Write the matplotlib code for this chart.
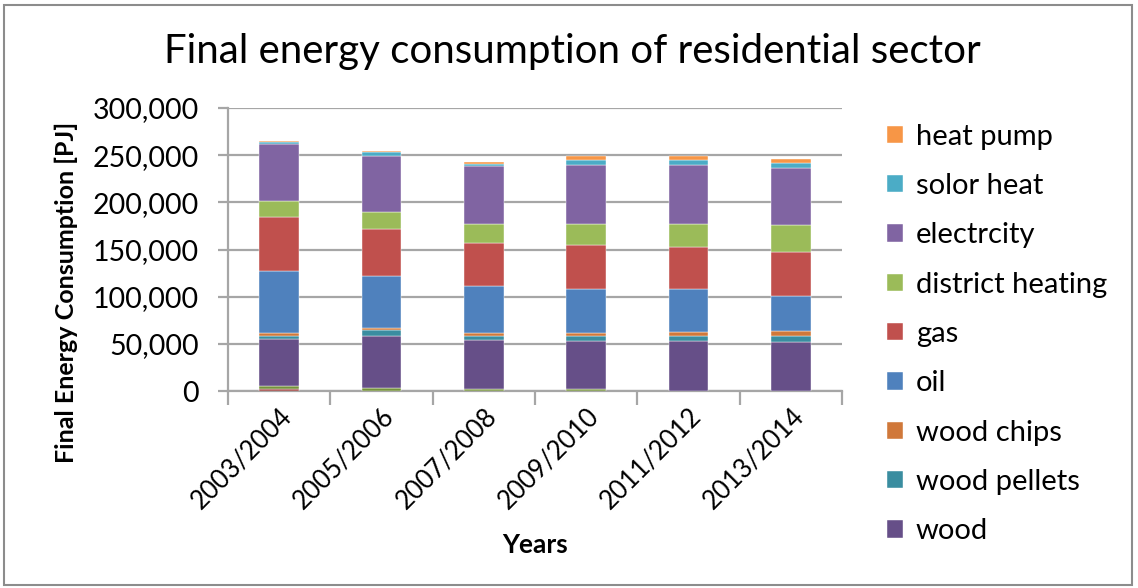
import matplotlib
matplotlib.use("Agg")
import matplotlib.pyplot as plt
from matplotlib.patches import Rectangle
from matplotlib.ticker import FuncFormatter, MultipleLocator
import numpy as np

plt.rcParams['font.family'] = ['Lato', 'DejaVu Sans']

years = ["2003/2004", "2005/2006", "2007/2008", "2009/2010", "2011/2012", "2013/2014"]

# Stacked from the bottom up
minor_a = [1800, 300, 0, 0, 0, 0]
minor_b = [3100, 3200, 1800, 1800, 500, 300]
wood = [50600, 54800, 52300, 51200, 52500, 51300]
wood_pellets = [2800, 6000, 4200, 5300, 5300, 7100]
wood_chips = [2800, 2400, 2800, 2800, 4600, 5200]
oil = [66500, 55500, 50200, 47000, 45200, 37200]
gas = [56500, 49500, 45200, 47000, 44200, 45900]
district_heating = [17700, 18300, 20500, 21600, 24700, 28600]
electricity = [59700, 59100, 61200, 62500, 62200, 60800]
solar_heat = [2500, 4200, 2400, 5700, 5700, 5600]
heat_pump = [1400, 1400, 2500, 4200, 4200, 3900]

series = [
    ("_minor_a", minor_a, "#9C3E3B"),
    ("_minor_b", minor_b, "#76923C"),
    ("wood", wood, "#664F88"),
    ("wood pellets", wood_pellets, "#3A8DA0"),
    ("wood chips", wood_chips, "#D0783A"),
    ("oil", oil, "#4F81BD"),
    ("gas", gas, "#C0504D"),
    ("district heating", district_heating, "#9BBB59"),
    ("electrcity", electricity, "#8064A2"),
    ("solor heat", solar_heat, "#4BACC6"),
    ("heat pump", heat_pump, "#F79646"),
]

fig = plt.figure(figsize=(11.38, 5.88), dpi=100)
ax = fig.add_axes([228 / 1138, 1 - 391 / 588, 614 / 1138, 283 / 588])

x = np.arange(len(years))
bottom = np.zeros(len(years))
handles = []
for name, vals, color in series:
    vals = np.asarray(vals, dtype=float)
    bars = ax.bar(x, vals, width=0.39, bottom=bottom, color=color,
                  edgecolor="white", linewidth=0.3, label=name, zorder=3)
    if not name.startswith("_"):
        handles.append(bars)
    bottom += vals

ax.set_xlim(-0.5, len(years) - 0.5)
ax.set_ylim(0, 300000)
ax.yaxis.set_major_locator(MultipleLocator(50000))
ax.yaxis.set_major_formatter(FuncFormatter(lambda v, p: f"{int(v):,}"))

grid_c = "#A6A6A6"
ax.grid(axis="y", color=grid_c, linewidth=1.6, zorder=0)
for s in ["top", "right"]:
    ax.spines[s].set_visible(False)
ax.spines["left"].set_color(grid_c)
ax.spines["left"].set_linewidth(1.6)
ax.spines["bottom"].set_color(grid_c)
ax.spines["bottom"].set_linewidth(1.6)

ax.set_xticks(x)
ax.set_xticklabels(years, rotation=45, ha="right", rotation_mode="anchor", fontsize=18.5)
ax.tick_params(axis="x", length=0, pad=9)
ax.set_xticks(np.arange(-0.5, len(years)), minor=True)
ax.tick_params(axis="x", which="minor", length=10, width=1.6, color=grid_c)
ax.tick_params(axis="y", length=7, width=1.6, color=grid_c, labelsize=20.5, pad=14)

ax.set_ylabel("Final Energy Consumption [PJ]", fontsize=18, fontweight="bold")
ax.yaxis.set_label_coords(-0.244, 0.35)
ax.set_xlabel("Years", fontsize=19, fontweight="bold", labelpad=14)

fig.text(0.503, 1 - 52 / 588, "Final energy consumption of residential sector",
         ha="center", va="center", fontsize=29)

handles = handles[::-1]
labels = [h.get_label() for h in handles]
fig.legend(handles, labels, loc="center left", bbox_to_anchor=(875 / 1138, 1 - 334 / 588),
           frameon=False, fontsize=21, handlelength=0.55, handleheight=0.55,
           handletextpad=0.45, labelspacing=0.8, borderaxespad=0)

fig.add_artist(Rectangle((4 / 1138, 3 / 588), 1128 / 1138, 580 / 588,
                         transform=fig.transFigure, fill=False,
                         edgecolor="#8C8C8C", linewidth=1.5))

fig.savefig("out.png", dpi=100)
